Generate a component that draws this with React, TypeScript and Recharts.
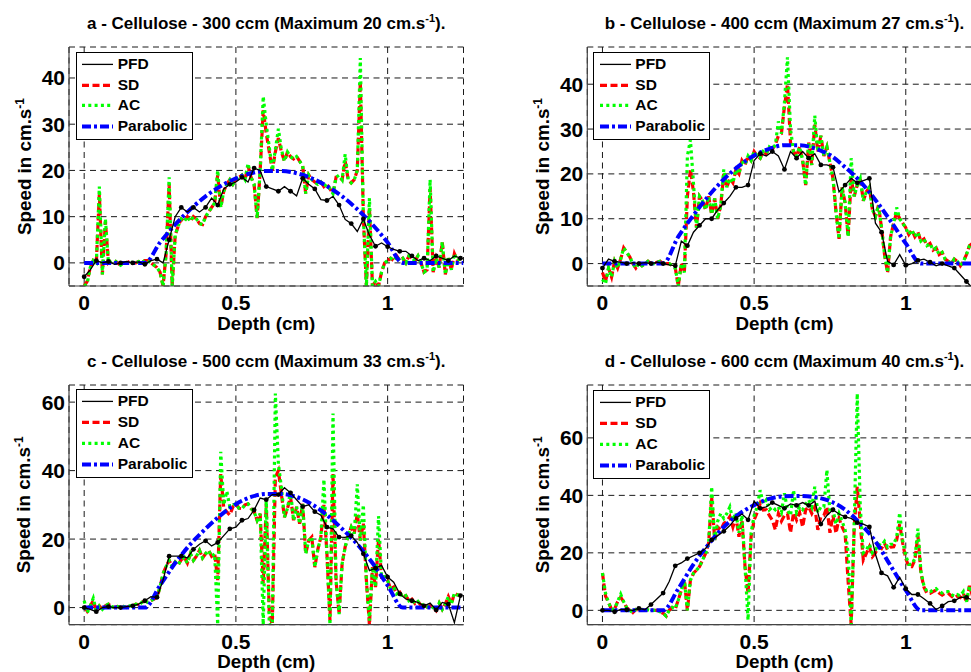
import React from "react";
import { CartesianGrid, Legend, Line, LineChart, XAxis, YAxis } from "recharts";

const FONT = '"Liberation Sans", Arial, Helvetica, sans-serif';

const COLORS = {
  pfd: "#000000",
  sd: "#ff0000",
  ac: "#00ff00",
  fit: "#0000ff",
  grid: "#1a1a1a",
  axis: "#444444",
};

const DASH = { sd: "7 3.5", ac: "3 3.3", fit: "9 3 3 3" };
const STROKE_W = { pfd: 1.3, sd: 3.2, ac: 3.2, fit: 4 };

// sample depths (cm)
const depthFine = [
  0, 0.01, 0.02, 0.03, 0.04, 0.05, 0.06, 0.07, 0.08, 0.09,
  0.1, 0.11, 0.12, 0.13, 0.14, 0.15, 0.16, 0.17, 0.18, 0.19,
  0.2, 0.21, 0.22, 0.23, 0.24, 0.25, 0.26, 0.27, 0.28, 0.29,
  0.3, 0.31, 0.32, 0.33, 0.34, 0.35, 0.36, 0.37, 0.38, 0.39,
  0.4, 0.41, 0.42, 0.43, 0.44, 0.45, 0.46, 0.47, 0.48, 0.49,
  0.5, 0.51, 0.52, 0.53, 0.54, 0.55, 0.56, 0.57, 0.58, 0.59,
  0.6, 0.61, 0.62, 0.63, 0.64, 0.65, 0.66, 0.67, 0.68, 0.69,
  0.7, 0.71, 0.72, 0.73, 0.74, 0.75, 0.76, 0.77, 0.78, 0.79,
  0.8, 0.81, 0.82, 0.83, 0.84, 0.85, 0.86, 0.87, 0.88, 0.89,
  0.9, 0.91, 0.92, 0.93, 0.94, 0.95, 0.96, 0.97, 0.98, 0.99,
  1, 1.01, 1.02, 1.03, 1.04, 1.05, 1.06, 1.07, 1.08, 1.09,
  1.1, 1.11, 1.12, 1.13, 1.14, 1.15, 1.16, 1.17, 1.18, 1.19,
  1.2, 1.21, 1.22, 1.23, 1.24,
];

const depthPfd = [
  0, 0.02, 0.04, 0.06, 0.08, 0.1, 0.12, 0.14, 0.16, 0.18,
  0.2, 0.22, 0.24, 0.26, 0.28, 0.3, 0.32, 0.34, 0.36, 0.38,
  0.4, 0.42, 0.44, 0.46, 0.48, 0.5, 0.52, 0.54, 0.56, 0.58,
  0.6, 0.62, 0.64, 0.66, 0.68, 0.7, 0.72, 0.74, 0.76, 0.78,
  0.8, 0.82, 0.84, 0.86, 0.88, 0.9, 0.92, 0.94, 0.96, 0.98,
  1, 1.02, 1.04, 1.06, 1.08, 1.1, 1.12, 1.14, 1.16, 1.18,
  1.2, 1.22, 1.24,
];

const depthFit = [
  0, 0.05, 0.1, 0.15, 0.2, 0.25, 0.3, 0.35, 0.4, 0.45,
  0.5, 0.55, 0.6, 0.65, 0.7, 0.75, 0.8, 0.85, 0.9, 0.95,
  1, 1.05, 1.1, 1.15, 1.2, 1.25,
];

const xTicks = [0, 0.5, 1];
const yTicksAB = [0, 10, 20, 30, 40];
const yTicksCD = [0, 20, 40, 60];

const titles = [
  "a - Cellulose - 300 ccm (Maximum 20 cm.s",
  "b - Cellulose - 400 ccm (Maximum 27 cm.s",
  "c - Cellulose - 500 ccm (Maximum 33 cm.s",
  "d - Cellulose - 600 ccm (Maximum 40 cm.s",
];

// ---- a : 300 ccm ----
const aPfd = [
  -3, -1.5, 0.5, 0, 0.3, -0.3, 0, 0.3, 0, 0.2,
  -0.3, 0.5, 0.8, 0, 5, 10, 12, 11, 12, 11,
  12, 14, 12.5, 16, 17, 17.5, 18.5, 17.5, 20.5, 20,
  16.5, 16, 15.5, 16.5, 15.5, 14.5, 18.3, 17, 16, 13.7,
  13.5, 14.4, 12.5, 9.4, 8.5, 6.8, 9.5, 6, 3.6, 4.3,
  3.5, 2.9, 2.5, 2.5, 1.5, 0.5, 1, 0.5, 1.5, 1,
  0.5, 1.5, 1,
];
const aSd = [
  -5, -4, -1, 0.5, 0, 15, -2.5, 9, 0, 0.5,
  0.5, 0, -0.5, 0, 0, 0.3, 0, 0, 0.3, 0,
  0.5, 0.5, 0, -0.5, -1, -2, -5, 2, 17, -5,
  6, 8, 9.5, 9, 10, 9, 10, 9.5, 8.5, 8.3,
  10, 11, 12, 13, 19, 12, 15.5, 17, 18, 17,
  18, 18.5, 19, 18, 21, 18.5, 17, 9.7, 20, 33,
  28, 24, 20, 24, 27, 24, 22, 24, 23, 22.5,
  23, 22, 21, 15, 19, 18, 17.5, 17, 17.5, 16.5,
  17, 16, 15, 18.5, 18.5, 18, 22, 18, 17.3, 18,
  20, 39, 10, -5, 12, -5, -4, -5, -2, 0,
  0.5, 1, 0.5, 1.5, 0.5, 1, 0, 1.5, 1, 0.5,
  1.5, 0, -2, -1.5, 16, -2, 1, -1, 4.5, -2.5,
  1, -1.5, 2, 0.5, 1,
];
const aAc = [
  -5, -4.5, -1, 0.5, 0, 16.5, -2.5, 9.5, 0, 0.5,
  0.5, 0, -0.5, 0, 0, 0.3, 0, 0, 0.3, 0,
  0.5, 0.5, 0, -0.5, -1, -2, -5, 2, 18.5, -5,
  6, 8, 9.5, 9, 10, 9, 10, 9.5, 8.5, 8.3,
  10, 11, 12, 13, 20, 12, 15.5, 17, 18, 17,
  18, 18.5, 19, 18, 21.5, 18.5, 17, 9.7, 20, 36,
  30, 25, 20, 24.5, 29, 24.5, 22, 24, 23, 22.5,
  23, 22, 21, 15, 19, 18, 17.5, 17, 17.5, 16.5,
  17, 16, 15, 18.5, 19, 18, 23.5, 18, 17.3, 18,
  20, 44.3, 10, -5, 14, -5, -4, -5, -2, 0,
  0.5, 1, 0.5, 1.5, 0.5, 1, 0, 1.5, 1, 0.5,
  1.5, 0, -2, -1.5, 18, -2, 1, -1, 4.5, -2.5,
  1, -1.5, 2, 0.5, 1,
];
const aFit = [
  0, 0, 0, 0, 0, 4.4, 8.3, 11.6, 14.4, 16.6,
  18.3, 19.4, 19.9, 19.9, 19.4, 18.3, 16.6, 14.4, 11.6, 8.3,
  4.4, 0, 0, 0, 0, 0,
];

// ---- b : 400 ccm ----
const bPfd = [
  -1, 1, 0.5, 0.3, 0, 0.2, 0, 0.2, 0, 0.3,
  0, -0.3, -0.5, 5, 4, 7, 8.5, 10, 10, 12,
  13.5, 15, 17, 17, 17.5, 23, 24.5, 24, 25, 24,
  21, 25, 23.5, 25, 23.5, 24.5, 22, 22, 21.5, 16,
  17.5, 19, 18, 18.5, 19, 9, 7, 0.5, -0.3, 2,
  -0.4, 0, 0.7, 1, 0.3, -0.5, 0, -0.5, -1, -2.5,
  -4, -5.5, -6,
];
const bSd = [
  -2, -4, -1, -3, 0.5, -1, 1, 3.5, 2.5, 1.5,
  0, -1, 0, -0.5, 0, 0.5, 0, 0, 0.3, 0.5,
  0, 0, 0, -0.5, -1, -5, 0, -2, 15, 21,
  16, 8, 15, 14, 12, 15, 11, 14.5, 10, 13,
  20, 17, 19, 18, 21, 20, 23, 22, 24, 23,
  25, 24, 23.5, 25, 24.5, 26, 25.5, 26.5, 28.5, 29,
  35, 40, 27, 25, 24, 26, 23, 17.5, 27, 22,
  31, 25, 28.5, 24, 26, 22.5, 19, 11.5, 5.5, 17,
  13.5, 6, 19, 15, 17.5, 19, 14, 16, 17, 12,
  10.5, 13, 8, 2, -2, 6, 9, 11.5, 10, 9,
  8, 6.5, 7.5, 6, 7, 5, 5.5, 4, 4.5, 3,
  3.5, 2, 2.5, 1, 0.5, 0, 1, 0.5, -0.5, 0.5,
  2, 4, 4.5, 3, 4,
];
const bAc = [
  -3.5, -4.5, -1, -3, 0.5, -1, 1, 3.5, 2.5, 1.5,
  0, -1, 0, -0.5, 0, 0.5, 0, 0, 0.3, 0.5,
  0, 0, 0, -0.5, -1, -5, 0, -2, 24, 27.6,
  18, 8, 15, 14, 12, 15, 11, 14.5, 10, 13,
  21, 17, 19, 18, 21, 20, 23, 22, 24, 23,
  25, 24, 23.5, 25, 24.5, 26, 25.5, 26.5, 31.7, 29,
  36, 46, 30, 25, 24, 26, 23, 17.5, 27, 22,
  33, 25, 28.5, 24, 26, 22.5, 19, 11.5, 5.5, 17,
  13.5, 6, 23.5, 15, 17.5, 19, 14, 16, 17, 12,
  10.5, 13, 8, 2, -2, 6, 9, 12.5, 10, 9,
  8, 6.5, 7.5, 6, 7, 5, 5.5, 4, 4.5, 3,
  3.5, 2, 2.5, 1, 0.5, 0, 1, 0.5, -0.5, 0.5,
  2, 4, 4.5, 3, 4,
];
const bFit = [
  0, 0, 0, 0, 0, 6, 10.8, 15.1, 18.8, 21.8,
  24.1, 25.6, 26.4, 26.4, 25.7, 24.2, 21.5, 18.3, 14.2, 9.5,
  4.5, 0, 0, 0, 0, 0,
];

// ---- c : 500 ccm ----
const cPfd = [
  0, -0.5, -1.2, 0, 0.3, 0, 0, 0.3, 0.5, 1,
  2, 3.2, 3, 8, 15, 15, 15, 14.5, 17, 18.5,
  19.5, 18, 19, 21, 23, 23.5, 25.5, 26, 28.5, 32,
  31.5, 33, 33, 35, 33.5, 31.5, 29.5, 30, 28, 27,
  23.5, 23, 20.6, 20.5, 21, 19, 15.7, 10.8, 11.5, 12.3,
  8.9, 7.4, 4, 2.5, 2, 1.5, 0.5, 1.3, -0.7, 1.5,
  1, -4.4, 3.5,
];
const cSd = [
  0.5, -1, 0.5, 2, -1, 0.5, -0.5, 0.5, 1, 0.3,
  0, 0.3, 0, 0.3, 0, 0.5, 0.5, 1, 0.8, 1.5,
  2, 1.5, 2, 2.5, 3, 6, 9.9, 12, 13.8, 12,
  13.3, 12.5, 14, 14.7, 13, 15.7, 13.8, 15, 16.7, 14.5,
  15.7, 16.7, 15, 15.7, 8, 39, 29, 28, 27, 29.4,
  30.3, 29, 28.9, 30, 30.3, 28.9, 28, 25.5, 27.4, 7,
  30.3, -2, -5, 38, 40, 33, 26.4, 29, 32.3, 25.5,
  29.4, 24.5, 30.3, 15.7, 19.6, 20.6, 11.8, 17, 20.6, 30,
  15.7, -3.8, 39, 7.9, -1.9, 12.8, 17.7, 21, 23.5, 21.6,
  27.4, 19.6, 24.5, 7.9, -5, 11.8, 6, 20, 8.9, 9,
  7.9, 5.5, 6, 4, 4.5, 3, 3.5, 2, 2.5, 1.2,
  1.8, 0.6, 1, 0.2, 0.6, 0, -0.9, 1.3, -0.5, 1,
  3.2, 1, 4.2, 3.7, 3.5,
];
const cAc = [
  2, -1.5, 0.5, 2.7, -1, 0.5, -0.5, 0.5, 1, 0.3,
  0, 0.3, 0, 0.3, 0, 0.5, 0.5, 1, 0.8, 1.5,
  2, 1.5, 2, 2.5, 3, 6, 9.9, 12, 13.8, 12,
  13.3, 12.5, 14, 14.7, 13, 15.7, 13.8, 15, 16.7, 14.5,
  15.7, 16.7, 15, 15.7, -5, 45.5, 30, 34, 29.4, 30,
  30.3, 29, 28.9, 30, 30.3, 28.9, 28, 25.5, 27.4, -5,
  32, -5, -5, 62.5, 42, 35, 26.4, 29, 34, 25.5,
  29.4, 24.5, 30.3, 15.7, 19.6, 20.6, 11.8, 17, 20.6, 37.4,
  15.7, -5, 56.7, 7.9, -1.9, 12.8, 17.7, 21, 23.5, 21.6,
  36, 19.6, 30, 7.9, -3.8, 11.8, 6, 26.7, 8.9, 9,
  7.9, 5.5, 6, 4, 4.5, 3, 3.5, 2, 2.5, 1.2,
  1.8, 0.6, 1, 0.2, 0.6, 0, -0.9, 1.3, -0.5, 1,
  3.2, 1, 4.2, 3.7, 3.5,
];
const cFit = [
  0, 0, 0, 0, 0, 6.5, 13, 18.5, 23, 27,
  30.2, 32.3, 33.2, 33.2, 32.3, 30.2, 27, 23, 18.5, 13,
  6.5, 0, 0, 0, 0, 0,
];

// ---- d : 600 ccm ----
const dPfd = [
  0, 0, -0.5, 0.3, 0.2, 0, 0.7, 0.2, 2, 4,
  6, 10, 15.5, 16.5, 18, 19, 20, 21.5, 24.5, 26,
  27.5, 29.5, 32, 33.5, 31.5, 38, 35.5, 36, 37.5, 36.5,
  35.5, 37, 36.5, 37.5, 36.5, 38, 30, 33, 35, 33.5,
  32.5, 32, 30.5, 30, 29, 19.5, 13, 12, 8, 11.5,
  7.5, 5.5, 5.5, 4, 2.4, 0.3, 1.5, 3, 3.3, 4.5,
  4.5, 3.6, 2,
];
const dSd = [
  13, 5, 2.7, 0.3, 0.5, 3, 4.5, 3, 0.9, 0,
  -0.8, 0.3, 0, 0.3, 0, 0.2, 0, 0, 0, -0.5,
  -1, -2, 0, 1, 0.5, 3.6, 7, 10.5, 0, 10.5,
  12.9, 14, 15.2, 17.5, 19.8, 23.3, 39.5, 24.5, 29, 28,
  30.2, 31, 32.6, 29, 32.6, 25.6, 31.4, 15.2, 5.9, 25.6,
  31.4, 34, 37.2, 34.9, 35, 33, 31.4, 28, 33.7, 31,
  33, 33.7, 27, 34, 31.4, 34, 29, 35, 36, 33.7,
  36, 28, 32.6, 33, 36, 27, 33, 26.8, 32, 29,
  26.8, 10, -5, 29, 43, 30.2, 17.5, 19.8, 22.1, 18.7,
  20, 22.1, 21.5, 23.3, 21, 22, 22.1, 24.5, 30, 23.3,
  18, 15.2, 15.2, 17.5, 26, 12.9, 8, 5.9, 5.9, 6.5,
  7, 6, 5.3, 6, 5.9, 5, 4.2, 5, 4.5, 5.9,
  2.7, 8.5, 5, 4.5, 5,
];
const dAc = [
  13, 6, 2.7, 0.3, 0.5, 3, 5.6, 3, 0.9, 0,
  -0.8, 0.3, 0, 0.3, 0, 0.2, 0, 0, 0, -0.5,
  -1, -2, 0, 1, 0.5, 3.6, 7, 10.5, 0, 10.5,
  12.9, 14, 15.2, 17.5, 19.8, 23.3, 43, 24.5, 31, 33.7,
  32, 33.7, 36, 31.4, 34, 27, 33, 15.2, -3.4, 27,
  33, 36, 41.8, 37, 38.4, 35, 36, 35, 36, 34,
  40.7, 35, 33, 41.8, 34, 36, 35, 37, 38.4, 36,
  43, 34, 36, 36, 48.8, 34, 34.9, 30, 33.7, 31,
  28, 20, -5, 30, 75.4, 36, 20, 21, 23, 20,
  21, 23, 22.5, 24, 22, 23, 23, 25.5, 34, 24,
  19, 16, 16, 18, 28.4, 13.5, 8.5, 6.5, 6.5, 7,
  7.5, 6.5, 6, 6.5, 6.5, 5.5, 5, 5.5, 5, 6.5,
  3, 8.5, 5.5, 5, 5.5,
];
const dFit = [
  0, 0, 0, 0, 0, 7.5, 16, 23, 29, 33.5,
  36.6, 38.8, 39.7, 39.8, 39.4, 38, 35, 30.2, 24, 15.5,
  7, 0, 0, 0, 0, 0,
];

type PanelSpec = {
  title: string;
  left: number;
  top: number;
  width: number;
  plotLeft: number;
  plotRight: number;
  plotTop: number;
  plotBottom: number;
  titleTop: number;
  legendLeft: number;
  legendTop: number;
  yMax: number;
  yTicks: number[];
  pfd: number[];
  sd: number[];
  ac: number[];
  fit: number[];
};

const PANEL_H = 336;
const Y_AXIS_W = 60;

const panels: PanelSpec[] = [
  {
    title: titles[0], left: 0, top: 0, width: 480,
    plotLeft: 69, plotRight: 463.5, plotTop: 47, plotBottom: 286,
    titleTop: 14.5, legendLeft: 75.7, legendTop: 51.7,
    yMax: 46.7, yTicks: yTicksAB, pfd: aPfd, sd: aSd, ac: aAc, fit: aFit,
  },
  {
    title: titles[1], left: 500, top: 0, width: 490,
    plotLeft: 587.3, plotRight: 981.6, plotTop: 47, plotBottom: 286,
    titleTop: 14.5, legendLeft: 93.3, legendTop: 51.7,
    yMax: 48.3, yTicks: yTicksAB, pfd: bPfd, sd: bSd, ac: bAc, fit: bFit,
  },
  {
    title: titles[2], left: 0, top: 336, width: 480,
    plotLeft: 69, plotRight: 463.5, plotTop: 385, plotBottom: 624.7,
    titleTop: 17, legendLeft: 75.7, legendTop: 53.3,
    yMax: 65, yTicks: yTicksCD, pfd: cPfd, sd: cSd, ac: cAc, fit: cFit,
  },
  {
    title: titles[3], left: 500, top: 336, width: 490,
    plotLeft: 587.3, plotRight: 981.6, plotTop: 385, plotBottom: 624.7,
    titleTop: 17, legendLeft: 93.3, legendTop: 54,
    yMax: 78.4, yTicks: yTicksCD, pfd: dPfd, sd: dSd, ac: dAc, fit: dFit,
  },
];

const legendRows = [
  { name: "PFD", stroke: COLORS.pfd, w: STROKE_W.pfd, dash: undefined },
  { name: "SD", stroke: COLORS.sd, w: STROKE_W.sd, dash: DASH.sd },
  { name: "AC", stroke: COLORS.ac, w: STROKE_W.ac, dash: DASH.ac },
  { name: "Parabolic", stroke: COLORS.fit, w: STROKE_W.fit, dash: DASH.fit },
];

function LegendBox() {
  return (
    <div
      style={{
        position: "relative",
        width: 117,
        height: 88.5,
        boxSizing: "border-box",
        border: "1px solid #000",
        background: "#fff",
        fontFamily: FONT,
        fontWeight: 700,
        fontSize: 15.5,
        color: "#000",
      }}
    >
      {legendRows.map((r, i) => (
        <div
          key={r.name}
          style={{
            position: "absolute",
            left: 0,
            top: 1.2 + 20.8 * i,
            height: 20.8,
            width: 115,
            lineHeight: "20.8px",
            whiteSpace: "nowrap",
          }}
        >
          <svg
            width={32}
            height={20.8}
            style={{ position: "absolute", left: 5.6, top: 0 }}
          >
            <line
              x1={0}
              x2={31}
              y1={10.4}
              y2={10.4}
              stroke={r.stroke}
              strokeWidth={r.w}
              strokeDasharray={r.dash}
            />
          </svg>
          <span style={{ position: "absolute", left: 41, top: 0 }}>{r.name}</span>
        </div>
      ))}
    </div>
  );
}

const pfdMark = (props: any) => {
  const { cx, cy, index } = props;
  if (index % 2 !== 0 || cx == null || cy == null) {
    return <g key={`m${index}`} />;
  }
  return <circle key={`m${index}`} cx={cx} cy={cy} r={2.4} fill="#000" />;
};

function Panel({ p }: { p: PanelSpec }) {
  const rows = depthFine.map((d, i) => ({ d, sd: p.sd[i], ac: p.ac[i] }));
  const pfdRows = depthPfd.map((d, i) => ({ d, v: p.pfd[i] }));
  const fitRows = depthFit.map((d, i) => ({ d, v: p.fit[i] }));

  const plotW = p.plotRight - p.plotLeft;
  const relLeft = p.plotLeft - p.left;
  const relTop = p.plotTop - p.top;
  const relBottom = p.plotBottom - p.top;
  const xAxisH = PANEL_H - relBottom;
  const cx = relLeft + plotW / 2;
  const cy = (relTop + relBottom) / 2;
  const ylx = relLeft - 38.5;

  const tickStyle = { fontSize: 21, fontWeight: 700, fill: "#000", fontFamily: FONT };

  return (
    <div
      style={{
        position: "absolute",
        left: p.left,
        top: p.top,
        width: p.width,
        height: PANEL_H,
      }}
    >
      <div
        style={{
          position: "absolute",
          left: relLeft,
          width: plotW,
          top: p.titleTop,
          textAlign: "center",
          fontFamily: FONT,
          fontWeight: 700,
          fontSize: 17,
          lineHeight: "17px",
          whiteSpace: "nowrap",
          color: "#000",
        }}
      >
        {p.title}
        <span style={{ fontSize: 11, position: "relative", top: -7 }}>-1</span>
        ).
      </div>
      <LineChart
        width={p.width}
        height={PANEL_H}
        data={rows}
        margin={{
          top: relTop,
          right: p.width - (p.plotRight - p.left),
          bottom: 0,
          left: relLeft - Y_AXIS_W,
        }}
      >
        <CartesianGrid
          stroke={COLORS.grid}
          strokeDasharray="6 4.5"
          strokeWidth={1}
        />
        <XAxis
          dataKey="d"
          type="number"
          domain={[-0.05, 1.25]}
          ticks={xTicks}
          allowDataOverflow
          height={xAxisH}
          tickLine={false}
          tickSize={6}
          tickMargin={3}
          axisLine={{ stroke: COLORS.axis, strokeWidth: 1.2 }}
          tick={tickStyle}
          label={() => (
            <text
              x={cx}
              y={relBottom + 43.5}
              textAnchor="middle"
              fontFamily={FONT}
              fontWeight={700}
              fontSize={18.8}
              fill="#000"
            >
              Depth (cm)
            </text>
          )}
        />
        <YAxis
          type="number"
          domain={[-5, p.yMax]}
          ticks={p.yTicks}
          allowDataOverflow
          width={Y_AXIS_W}
          tickLine={false}
          tickSize={2}
          tickMargin={2}
          axisLine={{ stroke: COLORS.axis, strokeWidth: 1.2 }}
          tick={tickStyle}
          label={() => (
            <text
              x={ylx}
              y={cy}
              transform={`rotate(-90 ${ylx} ${cy})`}
              textAnchor="middle"
              fontFamily={FONT}
              fontWeight={700}
              fontSize={18.8}
              fill="#000"
            >
              Speed in cm.s
              <tspan dy={-7} fontSize={12}>
                -1
              </tspan>
            </text>
          )}
        />
        <Legend
          layout="horizontal"
          verticalAlign="middle"
          align="center"
          content={() => <LegendBox />}
          wrapperStyle={{
            left: p.legendLeft,
            top: p.legendTop,
            width: "auto",
            height: "auto",
          }}
        />
        <Line
          dataKey="sd"
          type="linear"
          stroke={COLORS.sd}
          strokeWidth={STROKE_W.sd}
          strokeDasharray={DASH.sd}
          dot={false}
          activeDot={false}
          isAnimationActive={false}
        />
        <Line
          dataKey="ac"
          type="linear"
          stroke={COLORS.ac}
          strokeWidth={STROKE_W.ac}
          strokeDasharray={DASH.ac}
          dot={false}
          activeDot={false}
          isAnimationActive={false}
        />
        <Line
          data={fitRows}
          dataKey="v"
          type="monotone"
          stroke={COLORS.fit}
          strokeWidth={STROKE_W.fit}
          strokeDasharray={DASH.fit}
          dot={false}
          activeDot={false}
          isAnimationActive={false}
        />
        <Line
          data={pfdRows}
          dataKey="v"
          type="linear"
          stroke={COLORS.pfd}
          strokeWidth={STROKE_W.pfd}
          dot={pfdMark}
          activeDot={false}
          isAnimationActive={false}
        />
      </LineChart>
    </div>
  );
}

export default function App() {
  return (
    <div
      style={{
        position: "absolute",
        left: 0,
        top: 0,
        width: 971,
        height: 672,
        overflow: "hidden",
        background: "#fff",
        fontFamily: FONT,
      }}
    >
      {panels.map((p) => (
        <Panel key={p.title} p={p} />
      ))}
    </div>
  );
}
